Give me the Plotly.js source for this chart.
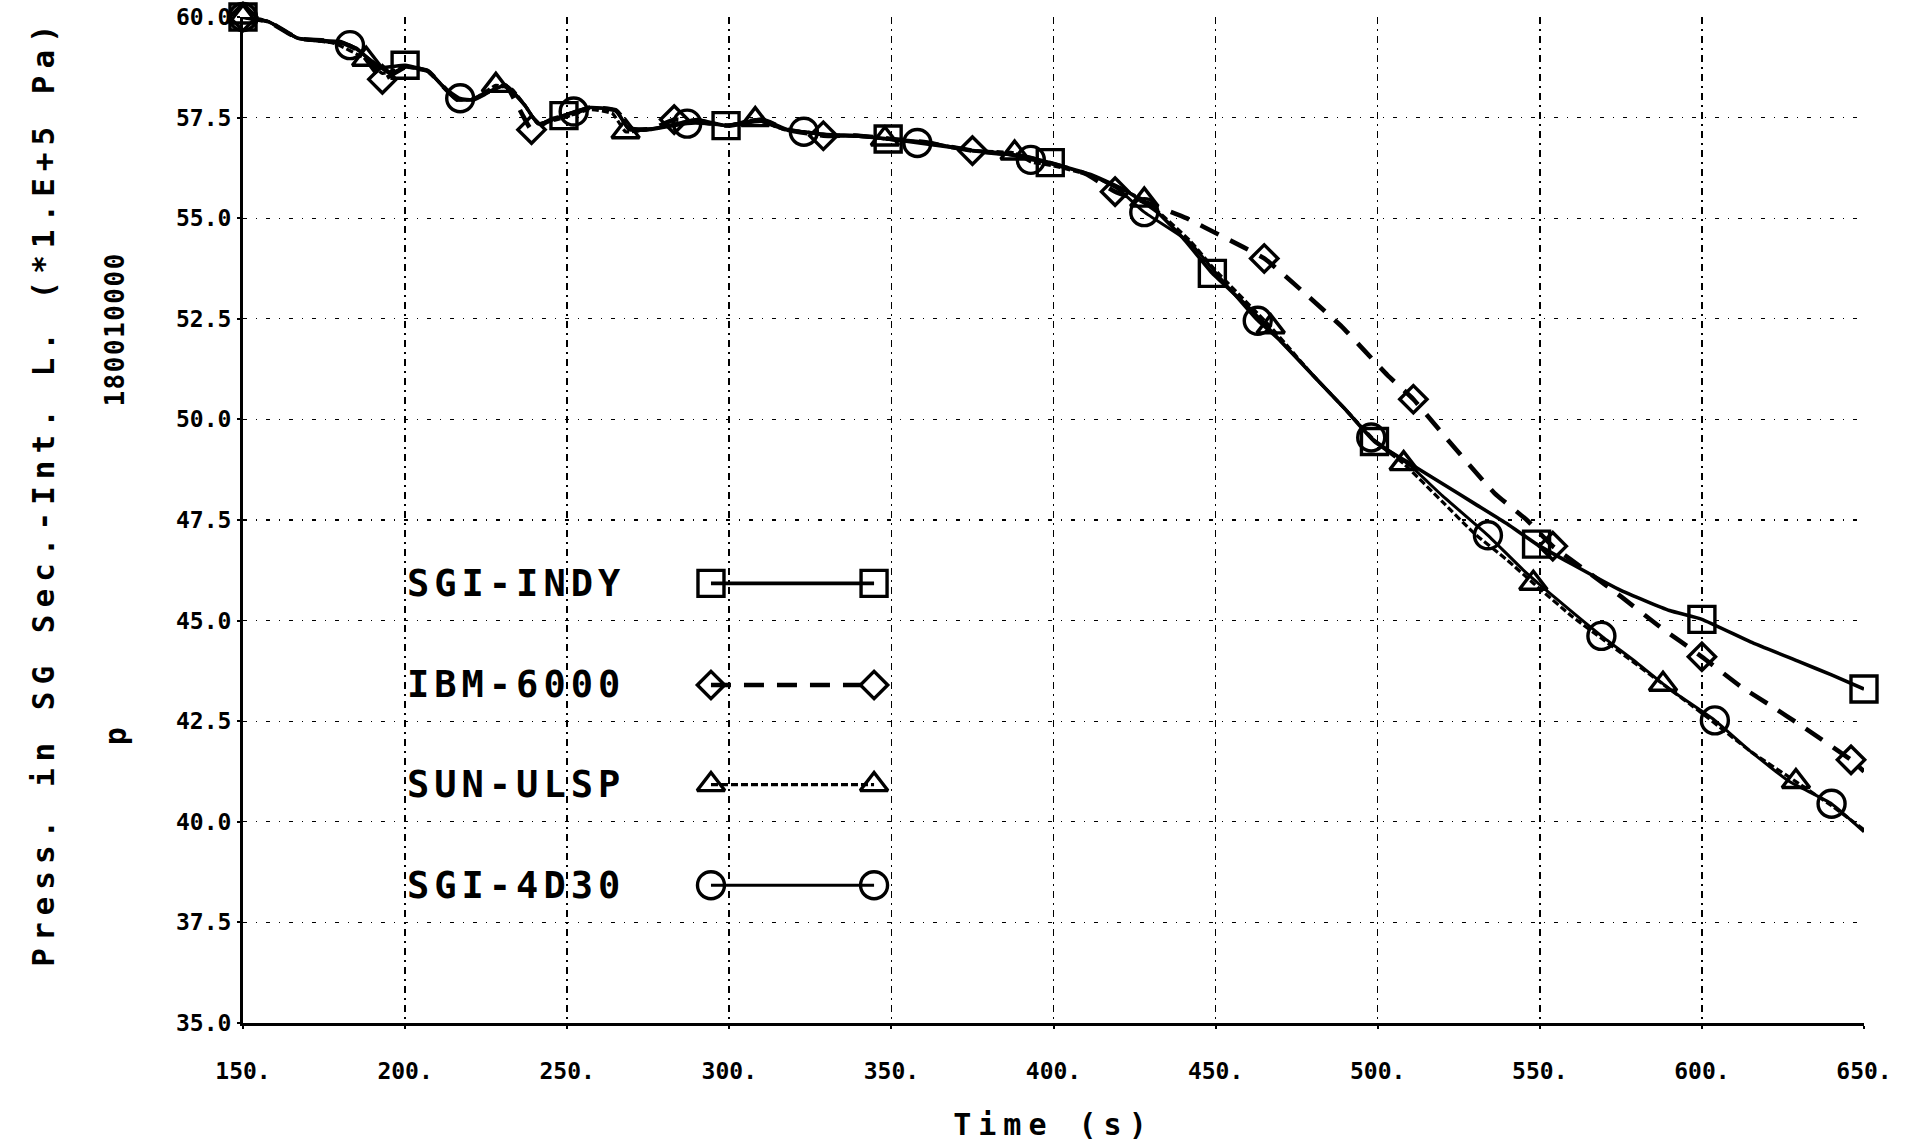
<!DOCTYPE html>
<html>
<head>
<meta charset="utf-8">
<script src="https://cdn.plot.ly/plotly-3.0.1.min.js"></script>
<style>
  html, body { margin: 0; padding: 0; background: #ffffff; }
  #chart { width: 1932px; height: 1148px; }
</style>
</head>
<body>
<div id="chart"></div>
<script>
// ---------------- data ----------------
const SERIES_NAMES = ["SGI-INDY", "IBM-6000", "SUN-ULSP", "SGI-4D30"];

// SGI-INDY (solid, squares)
const T_INDY = [150,158,167,180,185, 192,200,207,212,216, 221,226,231,237,241, 249,257,265,269,276, 284,290,299,310,318, 330,340,349,360,375, 390,399,412,422,432, 440,449,460,470,480, 490,499,510,520,530, 540,549,560,575,590, 600,615,630,640,650];
const P_INDY = [60.0,59.88,59.47,59.38,59.22, 58.75,58.8,58.66,58.25,57.95, 57.95,58.15,58.3,57.8,57.35, 57.55,57.75,57.68,57.22,57.22, 57.35,57.45,57.3,57.45,57.2, 57.08,57.05,56.97,56.89,56.68, 56.55,56.38,56.07,55.7,55.15, 54.5,53.63,52.8,51.95,51.1, 50.25,49.45,48.9,48.4,47.9, 47.4,46.9,46.4,45.75,45.25, 45.03,44.47,43.98,43.65,43.3];
const M_INDY = [1,0,0,0,0, 0,1,0,0,0, 0,0,0,0,0, 1,0,0,0,0, 0,0,1,0,0, 0,0,1,0,0, 0,1,0,0,0, 0,1,0,0,0, 0,1,0,0,0, 0,1,0,0,0, 1,0,0,0,1];

// IBM-6000 (dashed, diamonds)
const T_IBM = [150,158,167,180,186, 193,200,207,212,216, 221,226,231,236,239, 245,252,257,265,270, 276,283,290,300,310, 318,329,340,350,360, 375,390,400,410,419, 430,441,452,465,478, 489,503,511,521,536, 546,554,565,575,587, 600,612,621,631,646, 650];
const P_IBM = [60.0,59.88,59.47,59.38,59.15, 58.45,58.75,58.66,58.25,57.95, 57.95,58.15,58.3,57.6,57.2, 57.45,57.6,57.75,57.68,57.22, 57.22,57.45,57.4,57.3,57.45, 57.2,57.05,57.05,56.97,56.89, 56.68,56.55,56.35,56.1,55.66, 55.35,55.0,54.55,54.0,53.1, 52.3,51.1,50.5,49.55,48.17, 47.5,46.85,46.2,45.6,44.85, 44.1,43.36,42.9,42.37,41.54, 41.25];
const M_IBM = [1,0,0,0,0, 1,0,0,0,0, 0,0,0,0,1, 0,0,0,0,0, 0,1,0,0,0, 0,1,0,0,0, 1,0,0,0,1, 0,0,0,1,0, 0,0,1,0,0, 0,1,0,0,0, 1,0,0,0,1, 0];

// SUN-ULSP (short dashes, triangles)
const T_SUN = [150,158,167,178,188, 193,200,207,212,216, 221,228,233,237,241, 249,257,264,268,275, 284,290,299,308,317, 325,330,340,348,360, 375,388,393,400,412, 420,428,442,450,467, 480,490,500,508,520, 530,540,548,560,570, 588,600,615,629,640, 650];
const P_SUN = [60.0,59.88,59.47,59.35,58.95, 58.6,58.75,58.66,58.25,57.95, 57.95,58.3,58.2,57.8,57.35, 57.5,57.7,57.6,57.15,57.2, 57.35,57.45,57.3,57.45,57.2, 57.13,57.05,57.05,56.97,56.89, 56.68,56.62,56.4,56.3,56.05, 55.75,55.45,54.45,53.7,52.3, 51.1,50.25,49.4,48.9,47.95, 47.15,46.5,45.93,45.1,44.5, 43.42,42.7,41.75,41.0,40.4, 39.8];
const M_SUN = [1,0,0,0,1, 0,0,0,0,0, 0,1,0,0,0, 0,0,0,1,0, 0,0,0,1,0, 0,0,0,1,0, 0,1,0,0,0, 0,1,0,0,1, 0,0,0,1,0, 0,0,1,0,0, 1,0,0,1,0, 0];

// SGI-4D30 (solid, circles)
const T_4D = [150,158,167,176,183, 190,195,200,207,212, 217,221,226,231,237, 241,247,252,257,265, 269,276,287,293,300, 310,317,323,330,340, 350,358,375,385,393, 400,412,420,428,442, 450,463,470,480,490, 498,510,520,534,545, 555,569,580,590,604, 615,627,640,650];
const P_4D = [60.0,59.88,59.47,59.38,59.3, 58.9,58.6,58.75,58.66,58.25, 57.98,57.95,58.15,58.3,57.8, 57.35,57.5,57.65,57.75,57.68, 57.2,57.2,57.35,57.35,57.3, 57.4,57.2,57.15,57.05,57.03, 56.95,56.87,56.68,56.6,56.45, 56.35,56.05,55.72,55.15,54.4, 53.65,52.45,51.95,51.1,50.25, 49.55,48.85,48.1,47.12,46.25, 45.55,44.62,43.95,43.3,42.52, 41.75,41.0,40.45,39.75];
const M_4D = [1,0,0,0,1, 0,0,0,0,0, 1,0,0,0,0, 0,0,1,0,0, 0,0,1,0,0, 0,0,1,0,0, 0,1,0,0,1, 0,0,0,1,0, 0,1,0,0,0, 1,0,0,1,0, 0,1,0,0,1, 0,0,1,0];

// axis ticks
const X_TICK_VALS = [150,200,250,300,350,400,450,500,550,600,650];
const X_TICK_TEXT = ["150.","200.","250.","300.","350.","400.","450.","500.","550.","600.","650."];
const Y_TICK_VALS = [35,37.5,40,42.5,45,47.5,50,52.5,55,57.5,60];
const Y_TICK_TEXT = ["35.0","37.5","40.0","42.5","45.0","47.5","50.0","52.5","55.0","57.5","60.0"];

const X_TITLE = "Time (s)";
const Y_TITLE = "Press. in SG Sec.-Int. L. (*1.E+5 Pa)";
const Y_SUB_ID = "180010000";
const Y_SUB_VAR = "p";

// ---------------- styles ----------------
const FONT = "DejaVu Sans Mono, Liberation Mono, monospace";
const STYLES = [
  {symbol: "square-open",      size: 26, dash: "solid",     width: 3.6},
  {symbol: "diamond-open",     size: 21, dash: "20px,13px", width: 4.6},
  {symbol: "triangle-up-open", size: 24, dash: "7px,3px",   width: 3.2},
  {symbol: "circle-open",      size: 27, dash: "solid",     width: 3.0}
];
// legend block placement (paper fractions of the plot area)
const LEG_TEXT_X = 0.112;
const LEG_LINE_X = [0.2887, 0.3893];
const LEG_Y = [0.437, 0.336, 0.237, 0.137];

const seriesT = [T_INDY, T_IBM, T_SUN, T_4D];
const seriesP = [P_INDY, P_IBM, P_SUN, P_4D];
const seriesM = [M_INDY, M_IBM, M_SUN, M_4D];

const traces = [];
seriesT.forEach((t, i) => {
  const p = seriesP[i], m = seriesM[i], st = STYLES[i];
  traces.push({
    type: "scatter", mode: "lines", x: t, y: p, name: SERIES_NAMES[i],
    line: {color: "#000", width: st.width, dash: st.dash, shape: "spline", smoothing: 0.4},
    showlegend: false, hoverinfo: "skip", xaxis: "x", yaxis: "y"
  });
  traces.push({
    type: "scatter", mode: "markers",
    x: t.filter((_, k) => m[k]), y: p.filter((_, k) => m[k]), name: SERIES_NAMES[i] + " markers",
    marker: {symbol: st.symbol, size: st.size, color: "#000", line: {color: "#000", width: 3.4}},
    showlegend: false, hoverinfo: "skip", xaxis: "x", yaxis: "y", cliponaxis: false
  });
  // legend sample: a line with a marker at each end
  traces.push({
    type: "scatter", mode: "lines+markers",
    x: LEG_LINE_X, y: [LEG_Y[i], LEG_Y[i]], name: SERIES_NAMES[i] + " key",
    line: {color: "#000", width: st.width, dash: st.dash},
    marker: {symbol: st.symbol, size: st.size, color: "#000", line: {color: "#000", width: 3.4}},
    showlegend: false, hoverinfo: "skip", xaxis: "x3", yaxis: "y3", cliponaxis: false
  });
});

const tickFont = {family: FONT, size: 23, color: "#000", weight: "bold"};
const annotations = SERIES_NAMES.map((n, i) => ({
  xref: "paper", yref: "paper", x: LEG_TEXT_X, y: LEG_Y[i], xanchor: "left", yanchor: "middle",
  text: n, showarrow: false, font: {family: FONT, size: 37, color: "#000", weight: "bold"}
}));
annotations.push({
  xref: "paper", yref: "paper", x: -0.079, y: 0.69, xanchor: "center", yanchor: "middle",
  text: Y_SUB_ID, textangle: -90, showarrow: false, font: {family: FONT, size: 26, color: "#000", weight: "bold"}
});
annotations.push({
  xref: "paper", yref: "paper", x: -0.079, y: 0.285, xanchor: "center", yanchor: "middle",
  text: Y_SUB_VAR, textangle: -90, showarrow: false, font: {family: FONT, size: 30, color: "#000", weight: "bold"}
});
const ANNOT_SPACING = ["5px", "5px", "5px", "5px", "1.5px", "0px"];

const layout = {
  width: 1932, height: 1148,
  margin: {l: 243, r: 68, t: 17, b: 125},
  paper_bgcolor: "#fff", plot_bgcolor: "#fff",
  showlegend: false,
  xaxis: {
    range: [150, 650], showline: true, linecolor: "#000", linewidth: 3,
    tickmode: "array", tickvals: X_TICK_VALS, ticktext: X_TICK_TEXT,
    ticks: "outside", ticklen: 3, tickwidth: 2, tickcolor: "#000",
    ticklabelstandoff: 22, tickfont: tickFont,
    showgrid: true, gridcolor: "#000", gridwidth: 1.6, griddash: "7px,5px,2px,5px",
    zeroline: false,
    title: {text: X_TITLE, standoff: 32, font: {family: FONT, size: 30, color: "#000", weight: "bold"}}
  },
  yaxis: {
    range: [35, 60], showline: true, linecolor: "#000", linewidth: 3,
    tickmode: "array", tickvals: Y_TICK_VALS, ticktext: Y_TICK_TEXT,
    ticks: "outside", ticklen: 3, tickwidth: 2, tickcolor: "#000",
    ticklabelstandoff: 1, tickfont: tickFont,
    showgrid: true, gridcolor: "#000", gridwidth: 1.3, griddash: "4px,9px,1px,9px",
    zeroline: false,
    title: {text: Y_TITLE, standoff: 113, font: {family: FONT, size: 31, color: "#000", weight: "bold"}}
  },
  xaxis2: {overlaying: "x", anchor: "y", matches: "x", showline: false, showgrid: false, zeroline: false,
    tickmode: "array", tickvals: X_TICK_VALS, ticks: "inside", ticklen: 16, tickwidth: 2, tickcolor: "#000",
    showticklabels: false, side: "bottom"},
  yaxis2: {overlaying: "y", anchor: "x", matches: "y", showline: false, showgrid: false, zeroline: false,
    tickmode: "array", tickvals: Y_TICK_VALS, ticks: "inside", ticklen: 16, tickwidth: 2, tickcolor: "#000",
    showticklabels: false, side: "left"},
  xaxis3: {overlaying: "x", anchor: "y3", range: [0, 1], visible: false, fixedrange: true},
  yaxis3: {overlaying: "y", anchor: "x3", range: [0, 1], visible: false, fixedrange: true},
  annotations: annotations
};

Plotly.newPlot("chart", traces, layout, {staticPlot: true}).then(gd => {
  const sp = (sel, v) => gd.querySelectorAll(sel).forEach(el => { el.style.letterSpacing = v; });
  sp(".ytitle", "7px");
  sp(".xtitle", "7px");
  gd.querySelectorAll(".annotation").forEach((g, k) => {
    const t = g.querySelector(".annotation-text");
    if (t) t.style.letterSpacing = ANNOT_SPACING[k] || "0px";
  });
  // the original y title sits a little above the middle of the axis
  gd.querySelectorAll(".ytitle").forEach(el => {
    const tr = el.getAttribute("transform") || "";
    el.setAttribute("transform", "translate(0,-28) " + tr);
  });
});
</script>
</body>
</html>
